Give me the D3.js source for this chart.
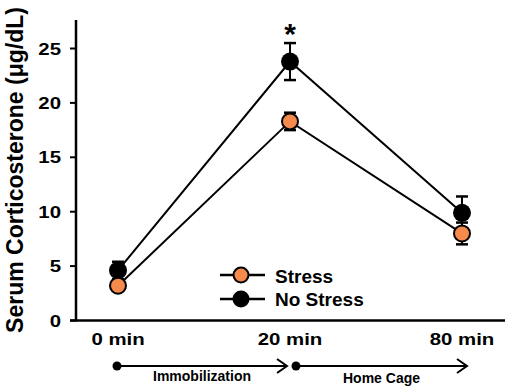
<!DOCTYPE html>
<html><head><meta charset="utf-8">
<script src="https://cdn.jsdelivr.net/npm/d3@7"></script>
<style>body{margin:0;background:#fff}text{font-family:"Liberation Sans",Arial,sans-serif;font-weight:bold}</style>
</head><body><svg id="c" width="510" height="389"></svg>
<script>
const categories = ["0 min", "20 min", "80 min"];
const stress = [3.2, 18.3, 8.0];
const stressErr = [0.3, 0.8, 1.0];
const noStress = [4.6, 23.8, 9.9];
const noStressErr = [0.8, 1.7, 1.5];
const yTicks = [0, 5, 10, 15, 20, 25];

const svg = d3.select("#c");
const x = d3.scalePoint().domain(categories).range([118, 462]);
const y = d3.scaleLinear().domain([0, 25]).range([320.5, 48.5]);
const orange = "#f68a4c";

// axes
svg.append("line").attr("x1",76).attr("x2",76).attr("y1",20).attr("y2",321.5).attr("stroke","#000").attr("stroke-width",2.5);
svg.append("line").attr("x1",70).attr("x2",505).attr("y1",320.5).attr("y2",320.5).attr("stroke","#000").attr("stroke-width",2.5);
const yg = svg.append("g");
yTicks.forEach(t=>{
  yg.append("line").attr("x1",70).attr("x2",76).attr("y1",y(t)).attr("y2",y(t)).attr("stroke","#000").attr("stroke-width",2);
  yg.append("text").attr("transform",`translate(61,${y(t)}) scale(1.2,1)`).attr("dy","0.36em").attr("text-anchor","end").attr("font-size",17).text(t);
});
categories.forEach(c=>{
  svg.append("text").attr("transform",`translate(${x(c)},345) scale(1.2,1)`).attr("text-anchor","middle").attr("font-size",17).text(c);
});
svg.append("text").attr("transform","translate(23,170) rotate(-90)").attr("text-anchor","middle").attr("font-size",23).text("Serum Corticosterone (μg/dL)");

// lines
const line = d3.line().x((d,i)=>x(categories[i])).y(d=>y(d));
svg.append("path").attr("d",line(noStress)).attr("fill","none").attr("stroke","#000").attr("stroke-width",2);
svg.append("path").attr("d",line(stress)).attr("fill","none").attr("stroke","#000").attr("stroke-width",2);

function errs(vals, e){
  vals.forEach((v,i)=>{
    const cx = x(categories[i]);
    const g = svg.append("g").attr("stroke","#000").attr("stroke-width",2);
    g.append("line").attr("x1",cx).attr("x2",cx).attr("y1",y(v+e[i])).attr("y2",y(v-e[i]));
    g.append("line").attr("x1",cx-6).attr("x2",cx+6).attr("y1",y(v+e[i])).attr("y2",y(v+e[i])).attr("stroke-width",2.5);
    g.append("line").attr("x1",cx-6).attr("x2",cx+6).attr("y1",y(v-e[i])).attr("y2",y(v-e[i])).attr("stroke-width",2.5);
  });
}
// markers
errs(noStress, noStressErr);
noStress.forEach((v,i)=>svg.append("circle").attr("cx",x(categories[i])).attr("cy",y(v)).attr("r",9).attr("fill","#000"));
errs(stress, stressErr);
stress.forEach((v,i)=>svg.append("circle").attr("cx",x(categories[i])).attr("cy",y(v)).attr("r",8).attr("fill",orange).attr("stroke","#000").attr("stroke-width",2));

svg.append("text").attr("x",x("20 min")).attr("y",44).attr("text-anchor","middle").attr("font-size",30).text("*");

// legend
const leg = [{n:"Stress",f:orange,r:7.5,s:2,yy:275,ty:283},{n:"No Stress",f:"#000",r:8.5,s:0,yy:299,ty:306}];
leg.forEach(d=>{
  svg.append("line").attr("x1",220).attr("x2",265).attr("y1",d.yy).attr("y2",d.yy).attr("stroke","#000").attr("stroke-width",2.5);
  svg.append("circle").attr("cx",241).attr("cy",d.yy).attr("r",d.r).attr("fill",d.f).attr("stroke","#000").attr("stroke-width",d.s);
  svg.append("text").attr("x",275).attr("y",d.ty).attr("font-size",19).text(d.n);
});

// timeline arrows
const segs = [{a:"0 min",b:"20 min",label:"Immobilization",ty:381},{a:"20 min",b:"80 min",label:"Home Cage",ty:383}];
segs.forEach((s,i)=>{
  const x0 = x(s.a) + (i===0 ? -1 : 6), x1 = x(s.b) + (i===0 ? -3 : 5);
  svg.append("circle").attr("cx",x0).attr("cy",366).attr("r",4.5).attr("fill","#000");
  svg.append("line").attr("x1",x0).attr("x2",x1).attr("y1",366).attr("y2",366).attr("stroke","#000").attr("stroke-width",2);
  svg.append("path").attr("d",`M${x1-10},${359} L${x1},366 L${x1-10},${373}`).attr("fill","none").attr("stroke","#000").attr("stroke-width",2);
  svg.append("text").attr("x",(x0+x1)/2).attr("y",s.ty).attr("text-anchor","middle").attr("font-size",14).text(s.label);
});
</script></body></html>
